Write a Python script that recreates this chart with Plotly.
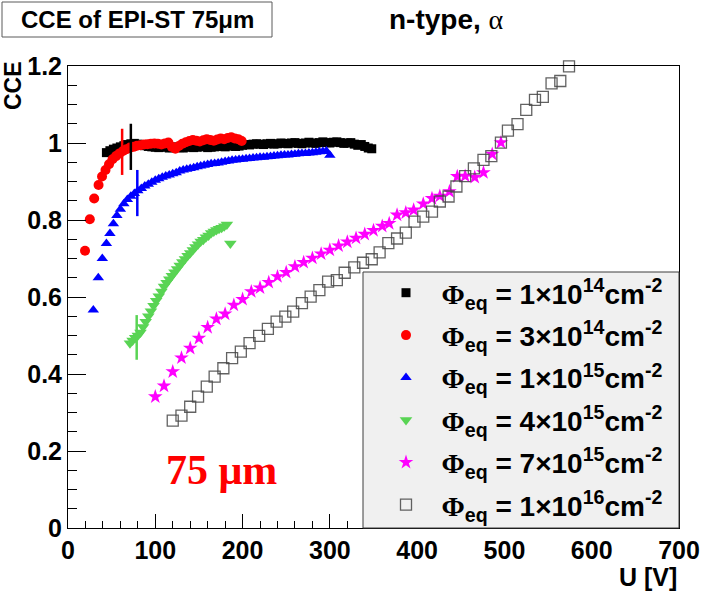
import plotly.graph_objects as go

# ---------------- data ----------------
black_u = [44,48,52,56,60,64,68,72,76,80,84,88,92,96,100,104,108,112,116,120,124,128,132,136,140,144,148,152,156,160,
           164,168,172,176,180,184,188,192,196,200,204,208,212,216,220,224,228,232,236,240,244,248,252,256,260,264,268,272,
           276,280,284,288,292,296,300,304,308,312,316,320,324,328,332,336,340,344,348]
black_cce = [0.975,0.980,0.984,0.987,0.990,0.993,0.996,0.998,0.999,0.997,
             0.995,0.993,0.991,0.990,0.989,0.988,0.990,0.989,0.987,0.988,
             0.990,0.988,0.987,0.989,0.990,0.988,0.989,0.991,0.990,0.988,
             0.989,0.990,0.992,0.991,0.990,0.992,0.993,0.991,0.992,0.994,
             0.996,0.995,0.997,0.998,0.997,0.996,0.998,0.999,0.997,0.998,
             1.000,0.999,0.998,1.000,1.001,0.999,0.998,1.000,1.002,1.000,
             0.999,1.001,1.003,1.001,1.000,1.002,1.003,1.001,0.999,1.000,
             1.001,0.997,0.994,0.996,0.991,0.987,0.985]

red_u = [19.5,25,30,35,39,43,47,51,55,59,63,67,71,75,79,83,87,91,95,99,103,107,111,115,119,123,127,131,135,139,
         143,147,151,155,159,163,167,171,175,179,183,187,191,195,199]
red_cce = [0.720,0.802,0.856,0.891,0.913,0.930,0.945,0.958,0.966,0.973,
           0.979,0.984,0.988,0.990,0.993,0.994,0.996,0.997,0.998,0.999,
           0.998,0.996,0.999,1.001,0.990,0.985,0.992,0.998,1.002,1.005,
           1.008,1.006,1.004,1.007,1.010,1.008,1.006,1.009,1.012,1.010,
           1.013,1.015,1.012,1.010,1.005]

blue_u = [29,34.7,39.3,44,48,52,56,60,64,68,72,76,80,84,88,92,96,100,104,108,112,116,120,124,128,132,136,140,144,148,
          152,156,160,164,168,172,176,180,184,188,192,196,200,204,208,212,216,220,224,228,232,236,240,244,248,252,256,
          260,264,268,272,276,280,284,288,292,296,300]
blue_cce = [0.566,0.650,0.700,0.739,0.765,0.790,0.812,0.828,0.842,0.853,
            0.862,0.869,0.876,0.882,0.888,0.893,0.898,0.903,0.907,0.911,
            0.914,0.917,0.920,0.923,0.927,0.930,0.932,0.934,0.936,0.938,
            0.940,0.942,0.944,0.946,0.947,0.948,0.950,0.952,0.953,0.955,
            0.956,0.957,0.958,0.959,0.960,0.961,0.962,0.963,0.963,0.964,
            0.965,0.966,0.967,0.968,0.969,0.969,0.970,0.971,0.972,0.973,
            0.973,0.974,0.975,0.976,0.977,0.978,0.979,0.968]

green_u = [71,74,77,80,83,86,89,92,95,98,101,104,107,110,113,116,119,122,125,128,131,134,137,140,143,146,149,152,
           155,158,161,164,167,170,173,176,179,182,186]
green_cce = [0.480,0.487,0.494,0.500,0.508,0.522,0.536,0.550,0.563,0.577,
             0.590,0.602,0.614,0.627,0.637,0.646,0.655,0.664,0.673,0.682,
             0.691,0.699,0.707,0.714,0.722,0.730,0.737,0.744,0.749,0.755,
             0.760,0.766,0.770,0.774,0.777,0.780,0.784,0.788,0.739]

magenta_u = [100,110,120,130,140,150,160,170,180,190,200,210,220,230,240,250,260,270,280,290,300,310,320,330,340,
             350,360,368,377,387,396,407,417,426,437,446,455,466,476,486,496]
magenta_cce = [0.341,0.369,0.406,0.442,0.467,0.493,0.521,0.543,0.556,0.579,
               0.594,0.614,0.624,0.638,0.653,0.664,0.679,0.690,0.701,0.712,
               0.722,0.733,0.743,0.753,0.763,0.773,0.784,0.791,0.813,0.819,
               0.826,0.842,0.856,0.862,0.874,0.913,0.914,0.911,0.923,0.971,1.001]

gray_u = [120,130,140,149,159,168,178,188,198,208,219,229,239,249,258,268,278,288,298,308,317,328,338,348,357,367,
          377,387,397,407,417,426,436,445,455,465,476,485,496,504,515,525,535,544,554,564,574]
gray_cce = [0.279,0.292,0.315,0.341,0.367,0.393,0.415,0.441,0.458,0.480,
            0.499,0.517,0.536,0.549,0.562,0.584,0.601,0.618,0.640,0.644,
            0.663,0.677,0.689,0.698,0.716,0.740,0.752,0.767,0.796,0.809,
            0.822,0.848,0.861,0.887,0.914,0.934,0.956,0.966,1.001,1.032,
            1.049,1.086,1.112,1.120,1.155,1.161,1.199]

# single-point error bars (depletion voltage marks)
err_u = [72, 62, 79.4, 78.7]
err_cce = [0.990, 0.977, 0.870, 0.495]
err_size = [0.060, 0.060, 0.060, 0.058]

fluences = ["1", "3", "1", "4", "7", "1"]
exponents = ["14", "14", "15", "15", "15", "16"]

x_ticks = [0, 100, 200, 300, 400, 500, 600, 700]
y_ticks = [0, 0.2, 0.4, 0.6, 0.8, 1.0, 1.2]
y_ticktext = ["0", "0.2", "0.4", "0.6", "0.8", "1", "1.2"]

# ---------------- styling ----------------
SANS = "Liberation Sans"
SERIF = "Liberation Serif"
GREEN = "rgb(89,212,84)"
GRAY = "rgba(70,70,70,0.85)"


def lbl(i):
    return ('\u00a0\u00a0<b><span style="font-family:Liberation Serif">Φ</span><sub>eq</sub> = '
            + fluences[i] + '×10<sup>' + exponents[i] + '</sup>cm<sup>-2</sup></b>')


series = [
    (black_u, black_cce, "square", 9, "black", None),
    (red_u, red_cce, "circle", 10, "red", None),
    (blue_u, blue_cce, "triangle-up", 10, "blue", None),
    (green_u, green_cce, "triangle-down", 11, GREEN, None),
    (magenta_u, magenta_cce, "star", 11, "magenta", None),
    (gray_u, gray_cce, "square-open", 11, GRAY, 1.3),
]

fig = go.Figure()
for i, (u, c, sym, sz, col, lw) in enumerate(series):
    mk = dict(symbol=sym, size=sz, color=col)
    if lw is not None:
        mk["line"] = dict(width=lw, color=col)
    else:
        mk["line"] = dict(width=0)
    fig.add_trace(go.Scatter(x=u, y=c, mode="markers", marker=mk, name=lbl(i),
                             legendgroup="g%d" % i, cliponaxis=False))

err_colors = ["black", "red", "blue", GREEN]
for k in range(len(err_u)):
    fig.add_trace(go.Scatter(
        x=[err_u[k]], y=[err_cce[k]], mode="markers",
        marker=dict(size=1, color="rgba(0,0,0,0)"),
        error_y=dict(type="data", array=[err_size[k]], visible=True,
                     color=err_colors[k], thickness=2.5, width=0),
        showlegend=False, hoverinfo="skip"))

L, R, T, B = 68, 24, 66, 64
W, H = 703, 592
pw, ph = W - L - R, H - T - B


def px(xp):
    return (xp - L) / pw


def py(yp):
    return (H - B - yp) / ph


axis_common = dict(showline=True, linecolor="black", linewidth=1, mirror=True, automargin=False,
                   ticks="inside", tickcolor="black", showgrid=False, zeroline=False,
                   tickfont=dict(family=SANS, size=25, color="black", weight="bold"))

fig.update_xaxes(range=[0, 700], tickmode="array", tickvals=x_ticks, ticklen=14,
                 minor=dict(dtick=20, ticks="inside", ticklen=7, tickcolor="black"),
                 **axis_common)
fig.update_yaxes(range=[0, 1.2], tickmode="array", tickvals=y_ticks, ticktext=y_ticktext, ticklen=18,
                 minor=dict(dtick=0.05, ticks="inside", ticklen=9, tickcolor="black"),
                 **axis_common)

shapes = [
    # legend box
    dict(type="rect", xref="paper", yref="paper", x0=px(363), x1=1.0, y0=0.0, y1=py(272),
         fillcolor="rgb(240,240,240)", line=dict(color="rgb(60,60,60)", width=1), layer="above"),
    # title box
    dict(type="rect", xref="paper", yref="paper", x0=px(2), x1=px(272), y0=py(37), y1=py(2),
         fillcolor="white", line=dict(color="rgb(90,90,90)", width=1), layer="above"),
]

annotations = [
    dict(text="<b>CCE of EPI-ST 75μm</b>", xref="paper", yref="paper", x=px(137), y=py(20),
         showarrow=False, font=dict(family=SANS, size=24, color="black"), xanchor="center", yanchor="middle"),
    dict(text='<b>n-type,</b> <span style="font-family:Liberation Serif">α</span>', xref="paper", yref="paper",
         x=px(446), y=py(20), showarrow=False, font=dict(family=SANS, size=28, color="black"),
         xanchor="center", yanchor="middle"),
    dict(text="<b>CCE</b>", xref="paper", yref="paper", x=px(13), y=py(86), textangle=-90,
         showarrow=False, font=dict(family=SANS, size=23, color="black"), xanchor="center", yanchor="middle"),
    dict(text="<b>U [V]</b>", xref="paper", yref="paper", x=px(679), y=py(577),
         showarrow=False, font=dict(family=SANS, size=25, color="black"), xanchor="right", yanchor="middle"),
    dict(text="<b>75 μm</b>", xref="paper", yref="paper", x=px(221), y=py(470),
         showarrow=False, font=dict(family=SERIF, size=42, color="red"), xanchor="center", yanchor="middle"),
]

fig.update_layout(
    width=W, height=H,
    margin=dict(l=L, r=R, t=T, b=B, pad=0, autoexpand=False),
    paper_bgcolor="white", plot_bgcolor="white",
    shapes=shapes, annotations=annotations,
    showlegend=True,
    legend=dict(x=px(386), y=py(268), xanchor="left", yanchor="top",
                bgcolor="rgba(0,0,0,0)", borderwidth=0,
                font=dict(family=SANS, size=28, color="black"),
                itemwidth=30, tracegroupgap=3),
)

fig.write_html("out.html")
